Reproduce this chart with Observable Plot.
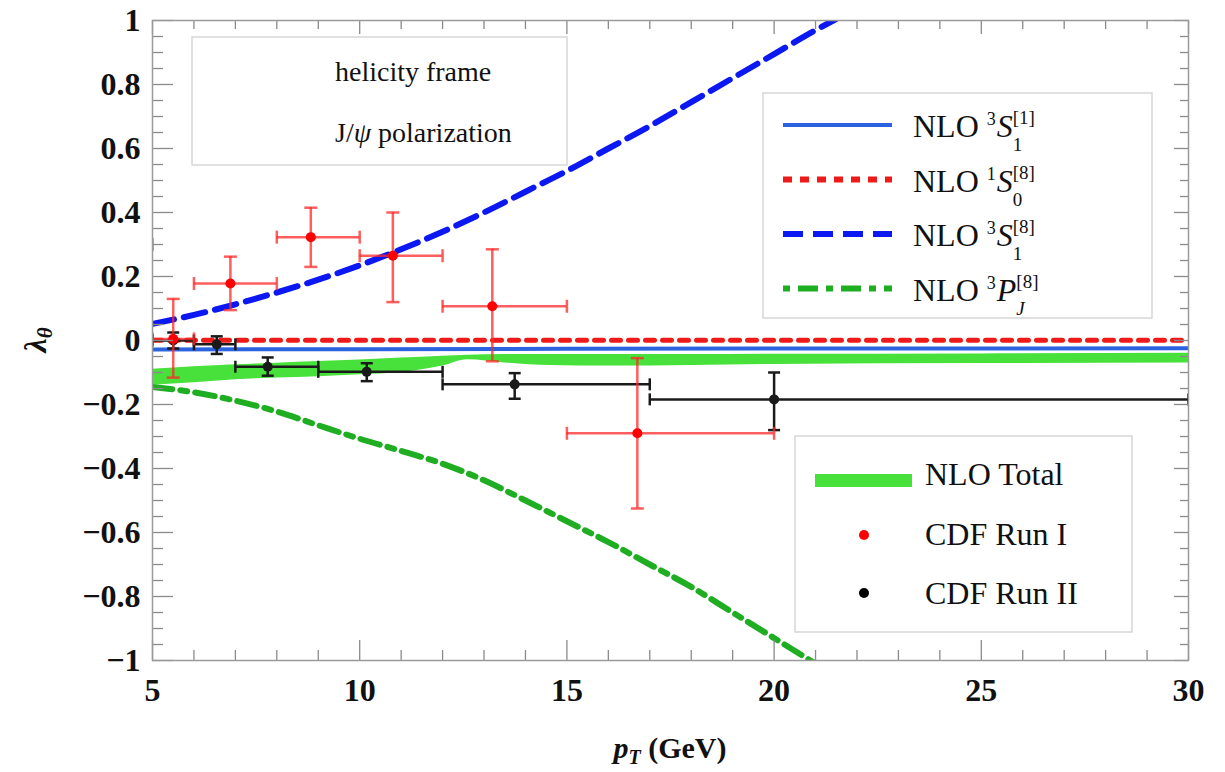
<!DOCTYPE html>
<html><head><meta charset="utf-8">
<script src="https://cdn.jsdelivr.net/npm/d3@7"></script>
<script src="https://cdn.jsdelivr.net/npm/@observablehq/plot@0.6"></script>
<style>body{margin:0;background:#fff} svg{display:block}</style>
</head><body><div id="chart"></div>
<script>
// ---- tick labels ----
const xTicks = [5, 10, 15, 20, 25, 30];
const xTickLabels = ["5", "10", "15", "20", "25", "30"];
const yTicks = [-1, -0.8, -0.6, -0.4, -0.2, 0, 0.2, 0.4, 0.6, 0.8, 1];
const yTickLabels = ["−1", "−0.8", "−0.6", "−0.4", "−0.2", "0", "0.2", "0.4", "0.6", "0.8", "1"];

// ---- NLO curves ----
const ptS1c1 = [5, 10, 15, 20, 25, 30];
const lamS1c1 = [-0.028, -0.027, -0.026, -0.025, -0.025, -0.024];

const ptS0c8 = [5, 10, 15, 20, 25, 30];
const lamS0c8 = [0.001, 0.001, 0.001, 0.001, 0.001, 0.001];

const ptS1c8 = [5, 6, 7, 8, 9, 10, 11, 12, 13, 14, 15, 16, 17, 18, 19, 20, 21, 21.5];
const lamS1c8 = [0.052, 0.08, 0.113, 0.15, 0.19, 0.235, 0.285, 0.34, 0.40, 0.465, 0.53, 0.60, 0.67, 0.745, 0.82, 0.895, 0.97, 1.005];

const ptPJc8 = [5, 6, 7, 8, 9, 10, 11, 12, 13, 14, 15, 16, 17, 18, 19, 20, 21];
const lamPJc8 = [-0.145, -0.162, -0.188, -0.222, -0.265, -0.307, -0.345, -0.385, -0.437, -0.50, -0.565, -0.63, -0.70, -0.77, -0.85, -0.93, -1.01];

// NLO total band
const ptTot = [5, 6, 7, 8, 9, 10, 11, 12, 12.6, 13.5, 14.6, 16, 18, 20, 25, 30];
const totLo = [-0.14, -0.132, -0.123, -0.117, -0.113, -0.107, -0.1, -0.08, -0.06, -0.07, -0.078, -0.08, -0.078, -0.075, -0.072, -0.07];
const totHi = [-0.09, -0.082, -0.076, -0.071, -0.066, -0.061, -0.055, -0.049, -0.046, -0.044, -0.044, -0.044, -0.044, -0.043, -0.042, -0.04];

// ---- CDF Run I ----
const run1Pt = [4.5, 5.5, 6.88, 8.82, 10.8, 13.2, 16.7];
const run1Lam = [0.30, 0.005, 0.178, 0.323, 0.265, 0.107, -0.29];
const run1Hi = [0.42, 0.13, 0.262, 0.415, 0.40, 0.285, -0.055];
const run1Lo = [0.18, -0.116, 0.095, 0.23, 0.12, -0.065, -0.525];
const run1X1 = [4, 5, 6, 8, 10, 12, 15];
const run1X2 = [5, 6, 8, 10, 12, 15, 20];

// ---- CDF Run II ----
const run2Pt = [5.5, 6.55, 7.78, 10.17, 13.74, 20.0];
const run2Lam = [0.0, -0.012, -0.082, -0.098, -0.137, -0.184];
const run2Hi = [0.025, 0.013, -0.053, -0.071, -0.102, -0.10];
const run2Lo = [-0.025, -0.042, -0.11, -0.127, -0.182, -0.28];
const run2X1 = [5, 6, 7, 9, 12, 17];
const run2X2 = [6, 7, 9, 12, 17, 30];

// ---- tables ----
const toXY = (xs, ys) => xs.map((x, i) => ({x, y: ys[i]}));
const s1c1 = toXY(ptS1c1, lamS1c1);
const s0c8 = toXY(ptS0c8, lamS0c8);
const s1c8 = toXY(ptS1c8, lamS1c8);
const pjc8 = toXY(ptPJc8, lamPJc8);
const band = ptTot.map((x, i) => ({x, lo: totLo[i], hi: totHi[i]}));
const run1 = run1Pt.map((x, i) => ({x, y: run1Lam[i], hi: run1Hi[i], lo: run1Lo[i], x1: run1X1[i], x2: run1X2[i]}));
const run2 = run2Pt.map((x, i) => ({x, y: run2Lam[i], hi: run2Hi[i], lo: run2Lo[i], x1: run2X1[i], x2: run2X2[i]}));

const xMinor = d3.range(5, 31).filter(v => v % 5 !== 0);
const yMinor = d3.range(-20, 21).filter(v => v % 4 !== 0).map(v => v / 20);

const W = 1225, H = 772, mL = 152, mR = 37, mT = 20, mB = 112;
const iW = W - mL - mR, iH = H - mT - mB;

const hcap = {draw(ctx, size) { const w = Math.sqrt(size / Math.PI); ctx.moveTo(-w, 0); ctx.lineTo(w, 0); }};
const vcap = {draw(ctx, size) { const w = Math.sqrt(size / Math.PI); ctx.moveTo(0, -w); ctx.lineTo(0, w); }};

const cBlueS = "#2a62e0", cRed = "#ee1a1a", cBlueD = "#0c18f2", cGreen = "#1fae22", cBand = "#48e03a";
const cRedBar = "rgba(255,40,40,0.75)", cBlack = "#1a1a1a";
const tickC = "#8a8a8a";
const serif = "'Liberation Serif', 'DejaVu Serif', serif";

const plot = Plot.plot({
  width: W, height: H,
  marginLeft: mL, marginRight: mR, marginTop: mT, marginBottom: mB,
  style: {fontFamily: serif, background: "#fff"},
  x: {domain: [5, 30]},
  y: {domain: [-1, 1]},
  marks: [
    Plot.areaY(band, {x: "x", y1: "lo", y2: "hi", fill: cBand, curve: "monotone-x", clip: true}),
    Plot.line(s0c8, {x: "x", y: "y", stroke: cRed, strokeWidth: 5, strokeDasharray: "9,8", clip: true}),
    Plot.line(s1c1, {x: "x", y: "y", stroke: cBlueS, strokeWidth: 4, clip: true}),
    Plot.line(s1c8, {x: "x", y: "y", stroke: cBlueD, strokeWidth: 6, strokeDasharray: "22,10", curve: "monotone-x", clip: true}),
    Plot.line(pjc8, {x: "x", y: "y", stroke: cGreen, strokeWidth: 6, strokeDasharray: "20,8,7,8", curve: "monotone-x", clip: true}),
    // CDF Run II
    Plot.ruleY(run2, {y: "y", x1: "x1", x2: "x2", stroke: cBlack, strokeWidth: 2.5, clip: true}),
    Plot.ruleX(run2, {x: "x", y1: "lo", y2: "hi", stroke: cBlack, strokeWidth: 2.5, clip: true}),
    Plot.dot(run2, {x: "x", y: "hi", symbol: hcap, r: 6, stroke: cBlack, strokeWidth: 2.5, clip: true}),
    Plot.dot(run2, {x: "x", y: "lo", symbol: hcap, r: 6, stroke: cBlack, strokeWidth: 2.5, clip: true}),
    Plot.dot(run2, {x: "x1", y: "y", symbol: vcap, r: 6, stroke: cBlack, strokeWidth: 2.5, clip: true}),
    Plot.dot(run2, {x: "x2", y: "y", symbol: vcap, r: 6, stroke: cBlack, strokeWidth: 2.5, clip: true}),
    Plot.dot(run2, {x: "x", y: "y", r: 5, fill: cBlack, clip: true}),
    // CDF Run I
    Plot.ruleY(run1, {y: "y", x1: "x1", x2: "x2", stroke: cRedBar, strokeWidth: 2.5, clip: true}),
    Plot.ruleX(run1, {x: "x", y1: "lo", y2: "hi", stroke: cRedBar, strokeWidth: 2.5, clip: true}),
    Plot.dot(run1, {x: "x", y: "hi", symbol: hcap, r: 6.5, stroke: cRedBar, strokeWidth: 2.5, clip: true}),
    Plot.dot(run1, {x: "x", y: "lo", symbol: hcap, r: 6.5, stroke: cRedBar, strokeWidth: 2.5, clip: true}),
    Plot.dot(run1, {x: "x1", y: "y", symbol: vcap, r: 6.5, stroke: cRedBar, strokeWidth: 2.5, clip: true}),
    Plot.dot(run1, {x: "x2", y: "y", symbol: vcap, r: 6.5, stroke: cRedBar, strokeWidth: 2.5, clip: true}),
    Plot.dot(run1, {x: "x", y: "y", r: 5, fill: "#ff0000", clip: true}),
    // frame ticks (inside)
    Plot.tickX(xTicks, {x: d => d, insetTop: iH - 20, stroke: tickC, strokeWidth: 1.3}),
    Plot.tickX(xMinor, {x: d => d, insetTop: iH - 10, stroke: tickC, strokeWidth: 1.3}),
    Plot.tickX(xTicks, {x: d => d, insetBottom: iH - 14, stroke: tickC, strokeWidth: 1.3}),
    Plot.tickX(xMinor, {x: d => d, insetBottom: iH - 9, stroke: tickC, strokeWidth: 1.3}),
    Plot.tickY(yTicks, {y: d => d, insetRight: iW - 21, stroke: tickC, strokeWidth: 1.3}),
    Plot.tickY(yMinor, {y: d => d, insetRight: iW - 11, stroke: tickC, strokeWidth: 1.3}),
    Plot.tickY(yTicks, {y: d => d, insetLeft: iW - 14, stroke: tickC, strokeWidth: 1.3}),
    Plot.tickY(yMinor, {y: d => d, insetLeft: iW - 8, stroke: tickC, strokeWidth: 1.3}),
    Plot.frame({stroke: "#9a9a9a", strokeWidth: 1.5}),
    Plot.axisX({ticks: xTicks, tickFormat: (d) => xTickLabels[xTicks.indexOf(d)], tickSize: 0, tickPadding: 18,
      fontSize: 32, fontWeight: "bold", fontFamily: serif, fill: "#111", label: null}),
    Plot.axisY({ticks: yTicks, tickFormat: (d) => yTickLabels[yTicks.indexOf(d)], tickSize: 0, tickPadding: 12,
      fontSize: 32, fontWeight: "bold", fontFamily: serif, fill: "#111", label: null})
  ]
});
document.getElementById("chart").appendChild(plot);

const svg = d3.select(plot);
svg.selectAll("[aria-label$='tick label']").attr("font-family", serif);

// ---- legends and axis titles (drawn into the same SVG) ----
const legend = svg.append("g").attr("font-family", serif).attr("fill", "#111").attr("text-anchor", "start");

function box(x, y, w, h) {
  legend.append("rect").attr("x", x).attr("y", y).attr("width", w).attr("height", h)
    .attr("fill", "#fff").attr("stroke", "#d6d6d6").attr("stroke-width", 1.5);
}
function richText(x, y, parts, size) {
  const t = legend.append("text").attr("x", x).attr("y", y).attr("font-size", size).attr("text-anchor", "start");
  for (const p of parts) {
    const s = t.append("tspan").text(p.t);
    if (p.size) s.attr("font-size", p.size);
    if (p.italic) s.attr("font-style", "italic");
    if (p.bold) s.attr("font-weight", "bold");
    if (p.dx) s.attr("dx", p.dx);
    if (p.dy) s.attr("dy", p.dy);
  }
  return t;
}

// box 1
box(192, 37, 375, 128);
richText(335, 81, [{t: "helicity frame"}], 28);
richText(335, 142, [{t: "J/"}, {t: "ψ", italic: true}, {t: " polarization"}], 28);

// box 2
const legendNames = [
  {pre: "3", L: "S", sub: "1", sup: "[1]", subW: 9.5},
  {pre: "1", L: "S", sub: "0", sup: "[8]", subW: 9.5},
  {pre: "3", L: "S", sub: "1", sup: "[8]", subW: 9.5},
  {pre: "3", L: "P", sub: "J", sup: "[8]", subW: 8.4}
];
const legendStyles = [
  {stroke: cBlueS, w: 4, dash: null},
  {stroke: cRed, w: 6, dash: "9,8"},
  {stroke: cBlueD, w: 6, dash: "20,10"},
  {stroke: cGreen, w: 6, dash: "7,8,20,8"}
];
box(763, 93, 389, 225);
legendNames.forEach((n, i) => {
  const ly = 125 + i * 54.5;
  const st = legendStyles[i];
  const ln = legend.append("line").attr("x1", 783).attr("x2", 892).attr("y1", ly).attr("y2", ly)
    .attr("stroke", st.stroke).attr("stroke-width", st.w);
  if (st.dash) ln.attr("stroke-dasharray", st.dash);
  richText(913, ly + 12, [
    {t: "NLO "},
    {t: n.pre, size: 18, dy: -12},
    {t: n.L, italic: true, dy: 12, dx: 1},
    {t: n.sub, size: 19, dy: 14, italic: n.sub === "J"},
    {t: n.sup, size: 19, dx: -n.subW, dy: -27}
  ], 32);
});

// box 3
box(795, 436, 337, 196);
legend.append("rect").attr("x", 815).attr("y", 474).attr("width", 97).attr("height", 13).attr("fill", cBand);
richText(925, 485, [{t: "NLO Total"}], 32);
legend.append("circle").attr("cx", 864).attr("cy", 535).attr("r", 5).attr("fill", "#ff0000");
richText(925, 545, [{t: "CDF Run I"}], 32);
legend.append("circle").attr("cx", 864).attr("cy", 593).attr("r", 5).attr("fill", "#000");
richText(925, 604, [{t: "CDF Run II"}], 32);

// axis titles
const xt = legend.append("text").attr("x", mL + iW / 2).attr("y", 758).attr("text-anchor", "middle")
  .attr("font-size", 30).attr("font-weight", "bold");
xt.append("tspan").text("p").attr("font-style", "italic");
xt.append("tspan").text("T").attr("font-style", "italic").attr("font-size", 20).attr("dy", 6);
xt.append("tspan").text(" (GeV)").attr("dy", -6);

const yt = legend.append("text").attr("transform", `translate(46,${mT + iH / 2}) rotate(-90)`)
  .attr("text-anchor", "middle").attr("font-size", 32).attr("font-weight", "bold");
yt.append("tspan").text("λ").attr("font-style", "italic");
yt.append("tspan").text("θ").attr("font-style", "italic").attr("font-size", 21).attr("dy", 6);
</script>
</body></html>
